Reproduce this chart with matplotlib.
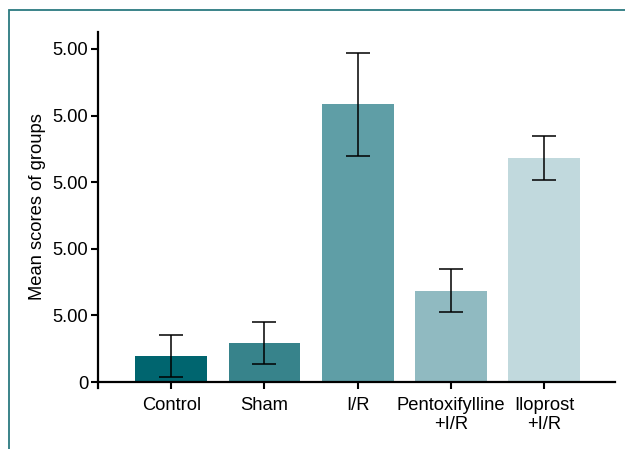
"""Bar chart of mean group scores with error bars."""

import matplotlib

matplotlib.use("Agg")
import matplotlib.pyplot as plt
from matplotlib.patches import Rectangle

groups = ["Control", "Sham", "I/R", "Pentoxifylline\n+I/R", "Iloprost\n+I/R"]
means = [0.39, 0.585, 4.17, 1.37, 3.36]
errors = [0.32, 0.32, 0.77, 0.32, 0.33]
colors = ["#00656f", "#37838b", "#5f9ea6", "#90bac1", "#c1d9dd"]
ytick_values = [0, 1, 2, 3, 4, 5]
ytick_labels = ["0", "5.00", "5.00", "5.00", "5.00", "5.00"]

plt.rcParams["font.family"] = ["Liberation Sans", "DejaVu Sans"]

fig = plt.figure(figsize=(6.25, 4.49), dpi=100)
ax = fig.add_axes([0.1568, 0.1492, 0.984 - 0.1568, 0.9287 - 0.1492])

x = list(range(len(groups)))
ax.bar(x, means, width=0.77, color=colors, zorder=2)
ax.errorbar(x, means, yerr=errors, fmt="none", ecolor="black",
            elinewidth=1.1, capsize=8.3, capthick=1.1, zorder=3)

ax.set_xlim(-0.785, 4.76)
ax.set_ylim(0, 5.255)
ax.set_xticks(x)
ax.set_xticklabels(groups, fontsize=13.2, linespacing=1.1)
ax.set_yticks(ytick_values)
ax.set_yticklabels(ytick_labels, fontsize=13.2)
ax.set_ylabel("Mean scores of groups", fontsize=13.2, labelpad=5)

for side in ("top", "right"):
    ax.spines[side].set_visible(False)
for side in ("left", "bottom"):
    ax.spines[side].set_linewidth(1.6)
ax.spines["left"].set_bounds(-0.09, 5.255)
ax.tick_params(axis="both", width=1.5, length=5, colors="black")
ax.tick_params(axis="y", pad=2)
ax.tick_params(axis="x", pad=6)

# teal frame around the figure
fig.patches.append(Rectangle((9 / 625, -0.1), 1.2, 1 - 10 / 449 + 0.1,
                             transform=fig.transFigure, fill=False,
                             edgecolor="#2b7a80", linewidth=1.3))

fig.savefig("out.png", dpi=100)
